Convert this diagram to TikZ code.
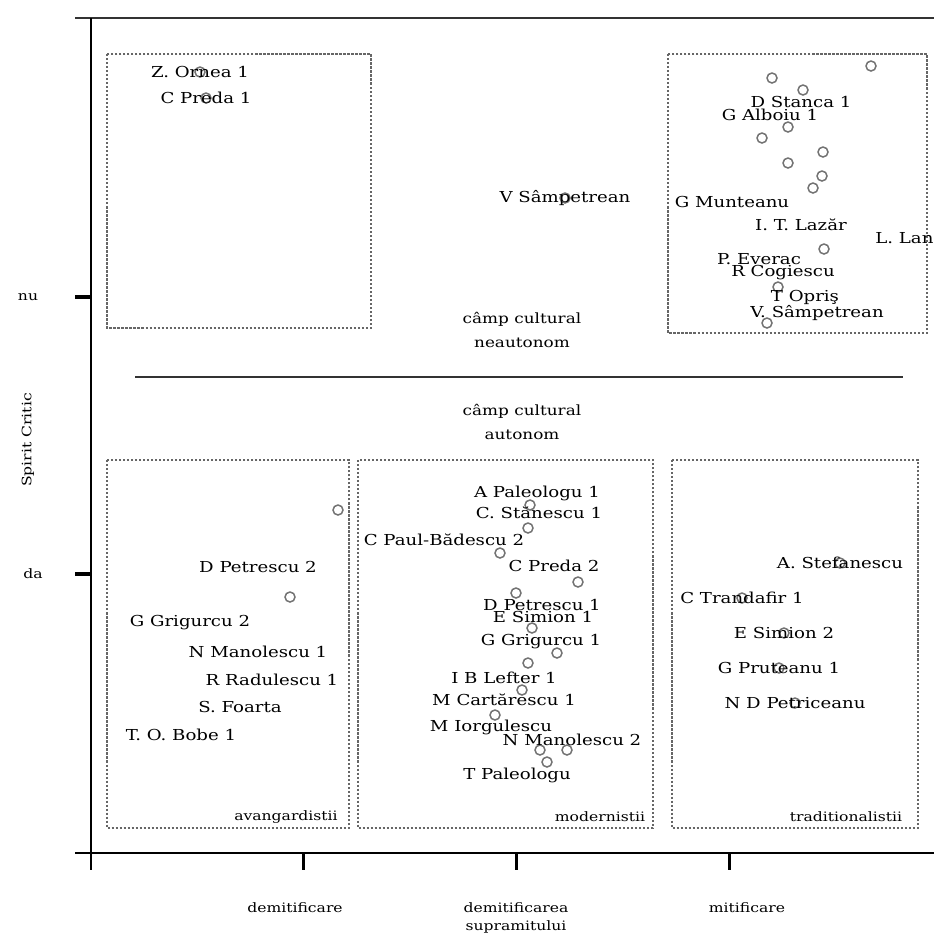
\documentclass[tikz,border=0pt]{standalone}
\usepackage{fontspec}
\setmainfont[FakeStretch=1.2]{DejaVu Serif}
\usepackage{tikz}
\usetikzlibrary{calc}
\def\spsspt(#1,#2){\draw[ptstyle] (#1,#2) circle [radius=0.1cm];}

\begin{document}
\begin{tikzpicture}[x=0.02cm, y=-0.02cm,
    ptstyle/.style={line width=0.3mm, color=black!55},
    grp/.style={densely dotted, line width=0.45mm, color=black!60},
    critic/.style={inner sep=0pt, font=\fontsize{8.6}{10}\selectfont},
    cls/.style={inner sep=0pt, font=\fontsize{7.4}{9}\selectfont},
    camp/.style={inner sep=0pt, align=center, font=\fontsize{8}{13.6}\selectfont},
    axlbl/.style={inner sep=0pt, align=center, font=\fontsize{7.4}{10}\selectfont}]
			%%%%% START %%%%%
			\useasboundingbox (0,0) rectangle (934,941);
			
			% axes
			\draw[line width=0.3mm, color=black!80] (75,18) -- (934,18);
			\draw[line width=0.5mm] (91,18) -- (91,870);
			\draw[line width=0.5mm] (75,853) -- (934,853);
			\draw[line width=0.9mm] (75,297) -- (91,297);
			\draw[line width=0.9mm] (75,574) -- (91,574);
			\draw[line width=0.6mm] (303,853) -- (303,870);
			\draw[line width=0.6mm] (516,853) -- (516,870);
			\draw[line width=0.6mm] (729,853) -- (729,870);
			
			\node[axlbl] (nu) at (28,297) {nu};
			\node[axlbl] (da) at (33,574) {da};
			\node[axlbl, rotate=90] (spirit) at (28,440) {Spirit Critic};
			\node[axlbl] (demit) at (295,908) {demitificare};
			\node[axlbl] (demitsupra) at (516,918) {demitificarea\\supramitului};
			\node[axlbl] (mitif) at (747,908) {mitificare};
			
			% separator
			\draw[line width=0.4mm, color=black!80] (135,377) -- (903,377);
			\node[camp] (neauton) at (522,330) {câmp cultural\\neautonom};
			\node[camp] (auton) at (522,422) {câmp cultural\\autonom};
			
			% group boxes
			\draw[grp] (107,54) rectangle (371,328);
			\draw[grp] (668,54) rectangle (927,333);
			\draw[grp] (107,460) rectangle (349,828);
			\draw[grp] (358,460) rectangle (653,828);
			\draw[grp] (672,460) rectangle (918,828);
			
			\node[cls] (avang) at (286,817) {avangardistii};
			\node[cls] (modern) at (600,817) {modernistii};
			\node[cls] (tradit) at (846,817) {traditionalistii};
			
			% top left
			\spsspt(200,72) \node[critic] (ornea) at (200,72) {Z. Ornea 1};
			\spsspt(206,98) \node[critic] (predaA) at (206,98) {C Preda 1};
			\spsspt(565,198) \node[critic] (sampA) at (565,198) {V Sâmpetrean};
			
			% top right
			\foreach \px/\py in {871/66, 772/78, 803/90, 788/127, 762/138, 823/152,
			    788/163, 822/176, 813/188, 824/249, 778/287, 767/323}
			  {\spsspt(\px,\py)}
			\node[critic] (stanca) at (801,102) {D Stanca 1};
			\node[critic] (alboiu) at (770,115) {G Alboiu 1};
			\node[critic] (munteanu) at (732,202) {G Munteanu};
			\node[critic] (lazar) at (801,225) {I. T. Lazăr};
			\node[critic, anchor=west] (lan) at (875,238) {L. Lan};
			\node[critic] (everac) at (759,259) {P. Everac};
			\node[critic] (cogiescu) at (783,273) {R Cogiescu};
			\node[critic] (opris) at (805,297) {T Opriş};
			\node[critic] (sampB) at (817,313) {V. Sâmpetrean};
			
			% avangardistii
			\spsspt(338,510) \spsspt(290,597)
			\node[critic] (petrescuB) at (258,567) {D Petrescu 2};
			\node[critic] (grigurcuB) at (190,623) {G Grigurcu 2};
			\node[critic] (manolescuA) at (258,652) {N Manolescu 1};
			\node[critic] (radulescu) at (272,680) {R Radulescu 1};
			\node[critic] (foarta) at (240,707) {S. Foarta};
			\node[critic] (bobe) at (181,735) {T. O. Bobe 1};
			
			% modernistii
			\foreach \px/\py in {530/505, 528/528, 500/553, 578/582, 516/593, 532/628,
			    557/653, 528/663, 522/690, 495/715, 540/750, 567/750, 547/762}
			  {\spsspt(\px,\py)}
			\node[critic] (paleologuA) at (537,493) {A Paleologu 1};
			\node[critic] (stanescu) at (539,513) {C. Stănescu 1};
			\node[critic] (badescu) at (444,540) {C Paul-Bădescu 2};
			\node[critic] (predaB) at (554,566) {C Preda 2};
			\node[critic] (petrescuA) at (542,605) {D Petrescu 1};
			\node[critic] (simionA) at (543,617) {E Simion 1};
			\node[critic] (grigurcuA) at (541,642) {G Grigurcu 1};
			\node[critic] (lefter) at (504,678) {I B Lefter 1};
			\node[critic] (cartarescu) at (504,700) {M Cartărescu 1};
			\node[critic] (iorgulescu) at (491,727) {M Iorgulescu};
			\node[critic] (manolescuB) at (572,740) {N Manolescu 2};
			\node[critic] (paleologuB) at (517,775) {T Paleologu};
			
			% traditionalistii
			\spsspt(840,563) \node[critic] (stefanescu) at (840,563) {A. Stefanescu};
			\spsspt(742,598) \node[critic] (trandafir) at (742,598) {C Trandafir 1};
			\spsspt(784,633) \node[critic] (simionB) at (784,633) {E Simion 2};
			\spsspt(779,668) \node[critic] (pruteanu) at (779,668) {G Pruteanu 1};
			\spsspt(795,703) \node[critic] (petriceanu) at (795,703) {N D Petriceanu};
			
			%%%%% END %%%%%
		\end{tikzpicture}
\end{document}
